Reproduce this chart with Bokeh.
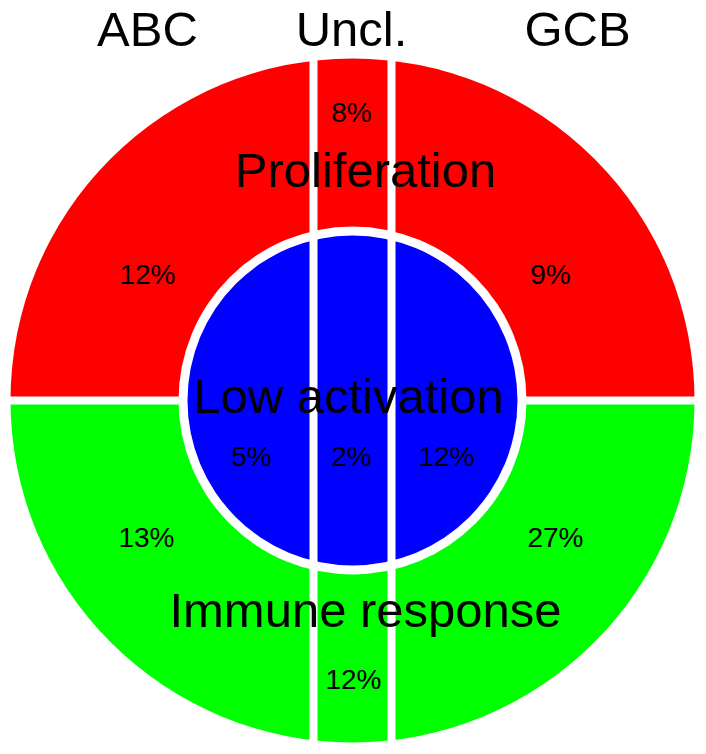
import math
from bokeh.plotting import figure
from bokeh.core.properties import value
from bokeh.embed import file_html
from bokeh.resources import INLINE

# ---- data ----
groups = ["ABC", "Uncl.", "GCB"]
states = ["Proliferation", "Low activation", "Immune response"]
proliferation_pct = [12, 8, 9]
low_activation_pct = [5, 2, 12]
immune_response_pct = [13, 12, 27]

# ---- layout (pixel-like data units, centre of disc at 0,0) ----
R_OUT = 342
R_WHITE = 174
R_IN = 165
GAP = 8
col_split_x = [-39, 39]
group_label_x = [-205, -1, 225]
group_label_y = 372
state_label_x = [13, -4, 13]
state_label_y = [231, 5, -209]
prolif_x = [-205, -1, 198]
prolif_y = [126, 288, 126]
low_x = [-101, -1, 94]
low_y = [-56, -56, -56]
immune_x = [-206, 1, 203]
immune_y = [-137, -279, -137]

FONT = value("Liberation Sans")

p = figure(width=706, height=754, x_range=(-352, 354), y_range=(-354, 400),
           output_backend="svg", toolbar_location=None, min_border=0)
p.axis.visible = False
p.grid.visible = False
p.outline_line_color = None
p.background_fill_color = "white"
p.border_fill_color = "white"

# outer ring halves
p.wedge(x=[0], y=[0], radius=R_OUT, start_angle=0, end_angle=math.pi,
        color="#FF0000", line_color=None)
p.wedge(x=[0], y=[0], radius=R_OUT, start_angle=math.pi, end_angle=2 * math.pi,
        color="#00FF00", line_color=None)
# horizontal white divider
p.rect(x=[0], y=[0], width=2 * R_OUT + 4, height=GAP, color="white", line_color=None)
# inner disc with white border
p.circle(x=[0], y=[0], radius=R_WHITE, color="white", line_color=None)
p.circle(x=[0], y=[0], radius=R_IN, color="#0000FF", line_color=None)
# vertical white dividers
for cx in col_split_x:
    h = math.sqrt(R_OUT ** 2 - cx ** 2)
    p.rect(x=[cx], y=[0], width=GAP, height=2 * h + 2, color="white", line_color=None)

# group headers
p.text(x=group_label_x, y=[group_label_y] * 3, text=groups, text_font=FONT,
       text_font_size="49px", text_align="center", text_baseline="alphabetic",
       text_color="black")
# state labels
p.text(x=state_label_x, y=state_label_y, text=states, text_font=FONT,
       text_font_size="49px", text_align="center", text_baseline="alphabetic",
       text_color="black")

def pct(vals):
    return [f"{v}%" for v in vals]

for xs, ys, vals in [(prolif_x, prolif_y, proliferation_pct),
                     (low_x, low_y, low_activation_pct),
                     (immune_x, immune_y, immune_response_pct)]:
    p.text(x=xs, y=ys, text=pct(vals), text_font=FONT, text_font_size="28px",
           text_align="center", text_baseline="alphabetic", text_color="black")

open("out.html", "w").write(file_html(p, INLINE))
